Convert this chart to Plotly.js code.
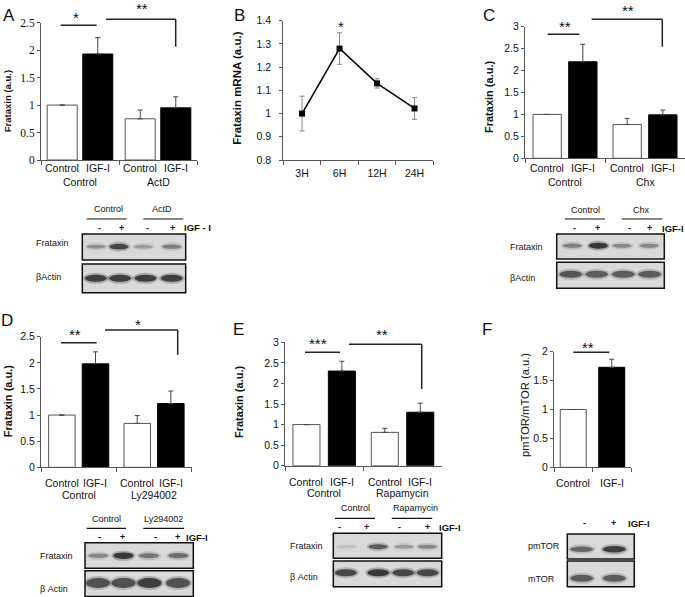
<!DOCTYPE html>
<html><head><meta charset="utf-8">
<script src="https://cdn.plot.ly/plotly-3.0.1.min.js"></script>
<style>html,body{margin:0;padding:0;background:#fff}#chart{width:685px;height:597px}</style>
</head><body><div id="chart"></div>
<script>
// ---------------- DATA ----------------
// Panel A (Actinomycin D)
const groupsA = ['Control', 'ActD'];
const ctrlA = [1.0, 0.75];
const ctrlErrA = [0, 0.16];
const igfA = [1.93, 0.95];
const igfErrA = [0.30, 0.20];
// Panel B (time course, mRNA)
const timesB = ['3H', '6H', '12H', '24H'];
const mrnaB = [1.0, 1.28, 1.13, 1.022];
const mrnaErrB = [0.075, 0.068, 0.02, 0.047];
// Panel C (Cycloheximide)
const groupsC = ['Control', 'Chx'];
const ctrlC = [1.0, 0.77];
const ctrlErrC = [0, 0.14];
const igfC = [2.2, 0.99];
const igfErrC = [0.40, 0.11];
// Panel D (Ly294002)
const groupsD = ['Control', 'Ly294002'];
const ctrlD = [1.0, 0.84];
const ctrlErrD = [0, 0.15];
const igfD = [1.98, 1.22];
const igfErrD = [0.23, 0.24];
// Panel E (Rapamycin)
const groupsE = ['Control', 'Rapamycin'];
const ctrlE = [1.0, 0.81];
const ctrlErrE = [0, 0.10];
const igfE = [2.30, 1.30];
const igfErrE = [0.24, 0.22];
// Panel F (pmTOR/mTOR)
const labelsF = ['Control', 'IGF-I'];
const ratioF = [1.0, 1.73];
const ratioErrF = [0, 0.14];
// Western blot band densities (0..1)
const laneSigns = ['-', '+', '-', '+'];
const fratBlotA = [0.35, 0.8, 0.3, 0.45];
const actinBlotA = [0.85, 0.85, 0.85, 0.85];
const fratBlotC = [0.45, 0.9, 0.4, 0.4];
const actinBlotC = [0.7, 0.65, 0.65, 0.65];
const fratBlotD = [0.4, 0.9, 0.5, 0.55];
const actinBlotD = [0.72, 0.72, 0.85, 0.72];
const fratBlotE = [0.12, 0.65, 0.3, 0.4];
const actinBlotE = [0.8, 0.9, 0.8, 0.8];
const pmtorBlotF = [0.6, 0.85];
const mtorBlotF = [0.65, 0.65];

// ---------------- HELPERS ----------------
const W = 685, H = 597;
const X = p => p / W, Y = p => 1 - p / H;
const SANS = 'Liberation Sans, Arial, sans-serif';
const SERIF = 'Liberation Serif, Times New Roman, serif';
const INK = '#111';
const AX = '#555';
const data = [], shapes = [], annotations = [];
const layout = {
  width: W, height: H, margin: {l: 0, r: 0, t: 0, b: 0},
  paper_bgcolor: '#fff', plot_bgcolor: 'rgba(0,0,0,0)',
  showlegend: false, barmode: 'overlay', hovermode: false,
  font: {family: SANS, color: INK}
};
const sfx = n => (n === 1 ? '' : String(n));

function axPair(n, px0, px1, pyTop, pyBot, yrange, dtick, yfont, ncat) {
  layout['xaxis' + sfx(n)] = {
    domain: [X(px0), Math.min(1, X(px1))], anchor: 'y' + sfx(n), type: 'category',
    range: [-0.5, ncat - 0.5], showgrid: false, zeroline: false, showline: true,
    linecolor: AX, linewidth: 1, ticks: 'outside', ticklen: 4, tickcolor: AX,
    tickson: 'boundaries', showticklabels: false, fixedrange: true
  };
  layout['yaxis' + sfx(n)] = {
    domain: [Y(pyBot), Y(pyTop)], anchor: 'x' + sfx(n), range: yrange,
    tickmode: 'linear', tick0: yrange[0], dtick: dtick, showgrid: false, zeroline: false,
    showline: true, linecolor: AX, linewidth: 1, ticks: 'outside', ticklen: 3,
    tickcolor: AX, tickfont: yfont, fixedrange: true
  };
}
function errBar(arr) {
  return {type: 'data', symmetric: false, array: arr, arrayminus: arr.map(() => 0),
          color: '#444', thickness: 1, width: 2.5};
}
function groupBars(n, groups, ctrl, ctrlErr, igf, igfErr, off, w) {
  const xa = 'x' + sfx(n), ya = 'y' + sfx(n);
  data.push({type: 'bar', x: groups, y: ctrl, xaxis: xa, yaxis: ya, width: w, offset: -off - w / 2,
    marker: {color: '#fff', line: {color: '#555', width: 1}}, error_y: errBar(ctrlErr)});
  data.push({type: 'bar', x: groups, y: igf, xaxis: xa, yaxis: ya, width: w, offset: off - w / 2,
    marker: {color: '#000', line: {color: '#000', width: 1}}, error_y: errBar(igfErr)});
}
function T(x, y, text, size, o) {
  annotations.push(Object.assign({xref: 'paper', yref: 'paper', x: X(x), y: Y(y), text: text,
    showarrow: false, font: {family: SANS, size: size, color: INK},
    xanchor: 'center', yanchor: 'middle', borderpad: 0}, o || {}));
}
function AL(n, xi, y, text, size) {
  annotations.push({xref: 'x' + sfx(n), yref: 'paper', x: xi, y: Y(y), text: text, showarrow: false,
    font: {family: SANS, size: size, color: INK}, xanchor: 'center', yanchor: 'middle', borderpad: 0});
}
function L(x0, y0, x1, y1, w, c) {
  shapes.push({type: 'line', xref: 'paper', yref: 'paper', x0: X(x0), y0: Y(y0), x1: X(x1), y1: Y(y1),
    line: {color: c || '#222', width: w || 1.5}});
}
function star(x, y, text) { T(x, y + 3.5, text, 15); }
function bracket(x0, y, x1, y2) { L(x0, y, x1, y); L(x1, y, x1, y2); }
function barLabels(n, groups, off, y1, y2, size) {
  groups.forEach((g, i) => {
    AL(n, i - off, y1, 'Control', size);
    AL(n, i + off, y1, 'IGF-I', size);
    AL(n, i, y2, g, size);
  });
}
function blotRow(x0, x1, y0, y1, cy, lanes, vals, bw, hBase, hScale) {
  shapes.push({type: 'rect', xref: 'paper', yref: 'paper', x0: X(x0), x1: X(x1), y0: Y(y1), y1: Y(y0),
    fillcolor: '#d9d9d9', line: {color: '#111', width: 1.5}});
  lanes.forEach((cx, i) => {
    const v = vals[i], h = hBase + hScale * v;
    shapes.push({type: 'circle', xref: 'paper', yref: 'paper',
      x0: X(cx - bw / 2 - 2), x1: X(cx + bw / 2 + 2), y0: Y(cy + h / 2 + 2), y1: Y(cy - h / 2 - 2),
      fillcolor: 'rgba(40,40,40,' + (v * 0.3).toFixed(3) + ')', line: {width: 0}});
    shapes.push({type: 'circle', xref: 'paper', yref: 'paper',
      x0: X(cx - bw / 2), x1: X(cx + bw / 2), y0: Y(cy + h / 2), y1: Y(cy - h / 2),
      fillcolor: 'rgba(20,20,20,' + (v * 0.85).toFixed(3) + ')', line: {width: 0}});
  });
}
function blotHeader(items, textY, lineY) {
  items.forEach(it => { T(it.cx, textY, it.text, 9); L(it.l0, lineY, it.l1, lineY, 1.2, '#111'); });
}
function blotSigns(xs, signs, y, igfX, igfText) {
  xs.forEach((x, i) => T(x, y, '<b>' + signs[i] + '</b>', 9));
  T(igfX, y, '<b>' + igfText + '</b>', 9.5, {xanchor: 'left'});
}
function leftLabel(x, y, text) { T(x, y, text, 9, {xanchor: 'left'}); }

const sansTick = {family: SANS, size: 10.5, color: INK};

// ---------------- PANEL A ----------------
axPair(1, 41, 197, 22.7, 160, [0, 2.5], 0.5, {family: SERIF, size: 11.5, color: INK}, 2);
groupBars(1, groupsA, ctrlA, ctrlErrA, igfA, igfErrA, 0.228, 0.385);
barLabels(1, groupsA, 0.228, 167.7, 181.7, 10.5);
T(7.5, 101.7, '<b>Frataxin (a.u.)</b>', 9.5, {textangle: -90});
T(8.7, 15.3, 'A', 17);
L(60.7, 25.3, 96.7, 25.3); star(76, 14, '*');
bracket(106, 19.3, 175.7, 46.7); star(141.7, 5.5, '**');
blotHeader([{text: 'Control', cx: 108, l0: 86.7, l1: 126.7}, {text: 'ActD', cx: 161.7, l0: 143.3, l1: 183.3}], 209.3, 219);
blotSigns([99, 121.7, 147.7, 172.7], laneSigns, 227.7, 182.5, 'IGF - I');
blotRow(82.3, 185.7, 234, 260, 246.7, [96, 119, 143.3, 171.7], fratBlotA, 19, 2.5, 4);
blotRow(82.3, 185.7, 264, 292.7, 278.3, [95.8, 120, 145.5, 171.7], actinBlotA, 22, 7, 0);
leftLabel(35, 242.7, 'Frataxin');
leftLabel(35, 276.7, 'βActin');

// ---------------- PANEL B ----------------
axPair(2, 283.3, 433.3, 20.7, 160, [0.8, 1.4], 0.1, sansTick, 4);
Object.assign(layout.xaxis2, {showticklabels: true, tickfont: {family: SANS, size: 10.5, color: INK}, ticklabelstandoff: 3});
layout.yaxis2.ticklabelstandoff = 6;
data.push({type: 'scatter', mode: 'lines+markers', x: timesB, y: mrnaB, xaxis: 'x2', yaxis: 'y2',
  line: {color: '#000', width: 1.5}, marker: {symbol: 'square', size: 6, color: '#000'},
  error_y: {type: 'data', array: mrnaErrB, color: '#888', thickness: 1, width: 2.5}, cliponaxis: false});
T(237.5, 88.3, '<b>Frataxin mRNA (a.u.)</b>', 11.5, {textangle: -90});
T(239.7, 15.3, 'B', 17);
star(341, 22.7, '*');

// ---------------- PANEL C ----------------
axPair(3, 525, 685, 26.7, 158.3, [0, 3], 0.5, sansTick, 2);
groupBars(3, groupsC, ctrlC, ctrlErrC, igfC, igfErrC, 0.223, 0.354);
barLabels(3, groupsC, 0.223, 168.3, 181.7, 10.5);
T(488.3, 96.7, '<b>Frataxin (a.u.)</b>', 11, {textangle: -90});
T(489, 15.8, 'C', 17);
L(547.7, 34.3, 579.3, 34.3); star(565, 23.3, '**');
bracket(591.7, 19.3, 662.3, 46.7); star(628.3, 6.7, '**');
blotHeader([{text: 'Control', cx: 585, l0: 565, l1: 605}, {text: 'Chx', cx: 641.7, l0: 621.7, l1: 662.3}], 210, 219);
blotSigns([574, 597.7, 629.3, 649.3], laneSigns, 228.3, 661, 'IGF-I');
blotRow(556.7, 664.3, 234, 259, 245.7, [572.3, 598.3, 622, 649], fratBlotC, 19, 2.5, 4);
blotRow(556.7, 664.3, 262.3, 288.3, 274.3, [570.8, 596.7, 623.3, 649.7], actinBlotC, 23, 7, 0);
leftLabel(509, 246.7, 'Frataxin');
leftLabel(509, 278.3, 'βActin');

// ---------------- PANEL D ----------------
axPair(4, 41, 191.7, 336.7, 467.3, [0, 2.5], 0.5, sansTick, 2);
groupBars(4, groupsD, ctrlD, ctrlErrD, igfD, igfErrD, 0.223, 0.352);
barLabels(4, groupsD, 0.223, 482.7, 495, 10.5);
T(7.5, 401.7, '<b>Frataxin (a.u.)</b>', 11, {textangle: -90});
T(7.2, 320.8, 'D', 17);
L(61, 342.7, 96.7, 342.7); star(75, 331, '**');
bracket(105, 330, 177.7, 355); star(137.7, 321, '*');
blotHeader([{text: 'Control', cx: 106, l0: 86.7, l1: 126}, {text: 'Ly294002', cx: 163.3, l0: 143.3, l1: 184}], 519, 528.3);
blotSigns([100, 122.7, 155, 177.7], laneSigns, 537.3, 185, 'IGF-I');
blotRow(85, 193.3, 542.7, 568.3, 555.7, [98.3, 123.3, 149, 178.3], fratBlotD, 20, 3, 4);
blotRow(85, 193.3, 570.7, 596.5, 583, [98, 123.5, 149.5, 178], actinBlotD, 24, 10, 0);
leftLabel(39, 555.7, 'Frataxin');
leftLabel(39, 589, 'β Actin');

// ---------------- PANEL E ----------------
axPair(5, 285, 441.7, 342.3, 465.7, [0, 3], 0.5, sansTick, 2);
groupBars(5, groupsE, ctrlE, ctrlErrE, igfE, igfErrE, 0.226, 0.345);
barLabels(5, groupsE, 0.226, 481.7, 493.3, 10.5);
T(238.3, 401.7, '<b>Frataxin (a.u.)</b>', 11, {textangle: -90});
T(239, 329, 'E', 17);
L(305, 352.3, 340, 352.3); star(318.3, 340, '***');
bracket(349, 344.3, 421.7, 389); star(382.3, 331, '**');
blotHeader([{text: 'Control', cx: 355, l0: 335, l1: 375}, {text: 'Rapamycin', cx: 415, l0: 391.7, l1: 432.3}], 508.3, 518.3);
blotSigns([339.3, 366.7, 399.3, 427.7], laneSigns, 527.3, 437.5, 'IGF-I');
blotRow(333.3, 441.7, 533.3, 558.3, 546.7, [346.7, 378, 404, 427.3], fratBlotE, 19, 2.5, 4);
blotRow(333.3, 441.7, 561, 586.7, 572.7, [345.8, 378.3, 403.3, 427.5], actinBlotE, 22, 7, 0);
leftLabel(288.5, 545.7, 'Frataxin');
leftLabel(288.5, 577.3, 'β Actin');

// ---------------- PANEL F ----------------
axPair(6, 554, 631, 351.7, 467.3, [0, 2], 0.5, sansTick, 2);
data.push({type: 'bar', x: labelsF, y: ratioF, xaxis: 'x6', yaxis: 'y6', width: 0.675,
  marker: {color: ['#fff', '#000'], line: {color: ['#555', '#000'], width: 1}}, error_y: errBar(ratioErrF)});
labelsF.forEach((lab, i) => AL(6, i, 483.3, lab, 10.5));
T(525, 405, 'pmTOR/mTOR (a.u.)', 11.2, {textangle: -90});
T(486.7, 329, 'F', 17);
L(573.3, 352.3, 609.3, 352.3); star(588.3, 344.3, '**');
blotSigns([584, 613.3], ['-', '+'], 523.3, 627, 'IGF-I');
blotRow(567.3, 634.3, 534, 559, 549.3, [581.7, 614.3], pmtorBlotF, 23, 3, 4);
blotRow(567.3, 634.3, 561, 586.7, 578.3, [581.7, 614.3], mtorBlotF, 23, 7, 0);
leftLabel(527, 546, 'pmTOR');
leftLabel(527, 579.3, 'mTOR');

layout.shapes = shapes;
layout.annotations = annotations;
Plotly.newPlot('chart', data, layout, {displayModeBar: false, staticPlot: true});
</script>
</body></html>
